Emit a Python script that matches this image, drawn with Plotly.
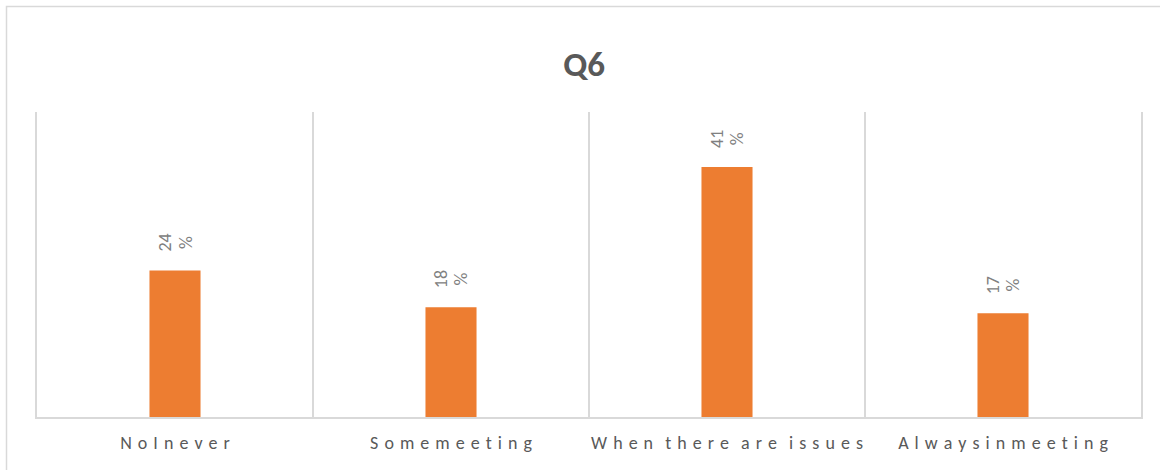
import plotly.graph_objects as go

# Survey answers for Q6 and the share of respondents (percent)
categories = ["NoInever", "Somemeeting", "When there are issues", "Alwaysinmeeting"]
values = [24, 18, 41, 17]

BAR_COLOR = "#ED7D31"
GRID_COLOR = "#D9D9D9"
TEXT_DARK = "#595959"
TEXT_LIGHT = "#808080"
FONT = "Calibri, Carlito, Lato, sans-serif"


def spaced(label):
    """Expanded character spacing for the axis labels."""
    out = []
    for word in label.split(" "):
        out.append("\u2004".join(word))
    return "\u2004\u2004".join(out)


tick_text = [spaced(c) for c in categories]

fig = go.Figure(
    go.Bar(
        x=categories,
        y=values,
        marker=dict(color=BAR_COLOR, line=dict(width=0)),
        width=0.185,
        hoverinfo="x+y",
    )
)

# value labels, rotated, above each bar (tight line spacing, larger glyphs)
for c, v in zip(categories, values):
    fig.add_annotation(
        x=c,
        y=v,
        text=f"<span style='font-size:18px'>{v}</span><br>"
             f"<span style='font-size:18px'>%</span>",
        textangle=-90,
        showarrow=False,
        xanchor="center",
        yanchor="bottom",
        yshift=17,
        font=dict(family=FONT, size=15.5, color=TEXT_LIGHT),
    )

# outer chart frame
fig.add_shape(
    type="rect",
    xref="paper",
    yref="paper",
    x0=(6.5 - 37) / 1104,
    x1=(1170 - 37) / 1104,
    y0=(417 - 480) / 305,
    y1=(417 - 6.5) / 305,
    line=dict(color=GRID_COLOR, width=1.5),
    fillcolor="rgba(0,0,0,0)",
    layer="below",
)

fig.update_layout(
    width=1160,
    height=470,
    margin=dict(l=37, r=19, t=112, b=53, autoexpand=False),
    paper_bgcolor="white",
    plot_bgcolor="white",
    showlegend=False,
    title=dict(
        text="<b>Q6</b>",
        x=0.5035,
        xanchor="center",
        y=1 - 63.5 / 470,
        yanchor="middle",
        font=dict(family=FONT, size=35, color=TEXT_DARK),
    ),
    xaxis=dict(
        type="category",
        tickmode="array",
        tickvals=categories,
        ticktext=tick_text,
        tickangle=0,
        automargin=False,
        tickson="boundaries",
        showgrid=True,
        gridcolor=GRID_COLOR,
        gridwidth=1.5,
        showline=True,
        linecolor=GRID_COLOR,
        linewidth=1.5,
        ticks="",
        ticklabelstandoff=9,
        tickfont=dict(family=FONT, size=18, color=TEXT_DARK),
        fixedrange=True,
    ),
    yaxis=dict(
        range=[0, 50],
        automargin=False,
        showgrid=False,
        showticklabels=False,
        zeroline=False,
        showline=True,
        mirror=True,
        linecolor=GRID_COLOR,
        linewidth=1.5,
        ticks="",
        fixedrange=True,
    ),
)

fig.write_html("out.html")
